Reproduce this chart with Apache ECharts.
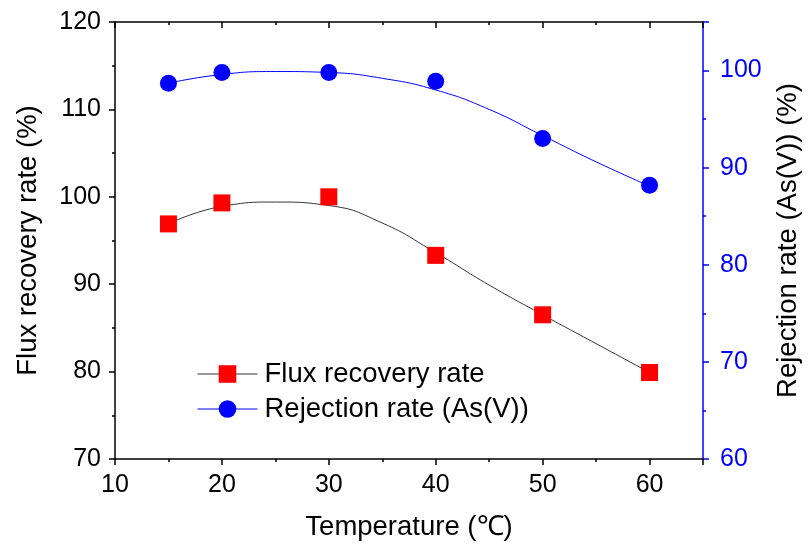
<!DOCTYPE html>
<html>
<head>
<meta charset="utf-8">
<script src="https://cdn.jsdelivr.net/npm/echarts@6/dist/echarts.min.js"></script>
<style>
  html, body { margin: 0; padding: 0; background: #fff; }
  #chart { width: 810px; height: 546px; }
</style>
</head>
<body>
<div id="chart"></div>
<script>
// measured points
var temps = [15, 20, 30, 40, 50, 60];
var fluxRecovery = [96.9, 99.3, 100.0, 93.3, 86.5, 79.9];
var rejection = [98.7, 99.8, 99.8, 98.9, 93.0, 88.2];

// fitted curves, every 5 degrees
var curveTemps = [15, 20, 25, 30, 35, 40, 45, 50, 55, 60];
var fluxCurve = [96.9, 98.9, 99.4, 99.0, 97.0, 93.6, 89.9, 86.5, 83.2, 79.9];
var rejectionCurve = [98.7, 99.6, 99.9, 99.8, 99.2, 98.0, 96.0, 93.3, 90.6, 88.1];

function pairs(xs, ys) {
    return xs.map(function (x, i) { return [x, ys[i]]; });
}

var chart = echarts.init(document.getElementById('chart'));

var font = "'Liberation Sans', Arial, sans-serif";
var black = '#000';
var blue = '#0000ff';

var option = {
    animation: false,
    backgroundColor: '#fff',
    textStyle: { fontFamily: font },
    grid: { left: 115, right: 101, top: 22, bottom: 87 },
    legend: {
        left: 192,
        top: 355,
        orient: 'vertical',
        itemWidth: 60,
        itemHeight: 22,
        itemGap: 7,
        textStyle: { fontFamily: font, fontSize: 27.5, color: black, padding: [0, 0, 0, 2] },
        data: [
            { name: 'Flux recovery rate', lineStyle: { opacity: 1, color: '#333', width: 1 } },
            { name: 'Rejection rate (As(V))', lineStyle: { opacity: 1, color: blue, width: 1 } }
        ]
    },
    xAxis: [
        {
            type: 'value',
            min: 10,
            max: 65,
            interval: 10,
            name: 'Temperature (\u2103)',
            nameLocation: 'middle',
            nameGap: 54,
            nameTextStyle: { fontFamily: font, fontSize: 27.5, color: black },
            axisLine: { lineStyle: { color: black, width: 1.5 } },
            axisTick: { inside: false, length: 6, lineStyle: { color: black, width: 1.5 } },
            minorTick: { show: true, splitNumber: 2, length: 3, lineStyle: { color: black, width: 1.5 } },
            axisLabel: { fontFamily: font, fontSize: 25, color: black, margin: 14, showMaxLabel: false },
            splitLine: { show: false }
        },
        {
            type: 'value',
            position: 'top',
            min: 10,
            max: 65,
            interval: 10,
            axisLine: { lineStyle: { color: black, width: 1.5 } },
            axisTick: { inside: true, length: 6, lineStyle: { color: black, width: 1.5 } },
            minorTick: { show: true, splitNumber: 2, length: 3, lineStyle: { color: black, width: 1.5 } },
            axisLabel: { show: false },
            splitLine: { show: false }
        }
    ],
    yAxis: [
        {
            type: 'value',
            position: 'left',
            min: 70,
            max: 120,
            interval: 10,
            name: 'Flux recovery rate (%)',
            nameLocation: 'middle',
            nameRotate: 90,
            nameGap: 73,
            nameTextStyle: { fontFamily: font, fontSize: 27.5, color: black },
            axisLine: { show: true, lineStyle: { color: black, width: 1.5 } },
            axisTick: { inside: false, length: 6, lineStyle: { color: black, width: 1.5 } },
            minorTick: { show: true, splitNumber: 2, length: 3, lineStyle: { color: black, width: 1.5 } },
            axisLabel: { fontFamily: font, fontSize: 25, color: black, margin: 14 },
            splitLine: { show: false }
        },
        {
            type: 'value',
            position: 'right',
            min: 60,
            max: 105,
            interval: 10,
            name: 'Rejection rate (As(V)) (%)',
            nameLocation: 'middle',
            nameRotate: 90,
            nameGap: 71,
            nameTextStyle: { fontFamily: font, fontSize: 27.5, color: black },
            axisLine: { show: true, lineStyle: { color: blue, width: 1.5 } },
            axisTick: { inside: false, length: 6, lineStyle: { color: blue, width: 1.5 } },
            minorTick: { show: true, splitNumber: 2, length: 3, lineStyle: { color: blue, width: 1.5 } },
            axisLabel: { fontFamily: font, fontSize: 25, color: blue, margin: 17, showMaxLabel: false },
            splitLine: { show: false }
        }
    ],
    series: [
        {
            name: 'Flux curve',
            type: 'line',
            xAxisIndex: 0,
            yAxisIndex: 0,
            smooth: 0.5,
            showSymbol: false,
            silent: true,
            lineStyle: { color: '#333', width: 1 },
            data: pairs(curveTemps, fluxCurve)
        },
        {
            name: 'Rejection curve',
            type: 'line',
            xAxisIndex: 0,
            yAxisIndex: 1,
            smooth: 0.5,
            showSymbol: false,
            silent: true,
            lineStyle: { color: blue, width: 1 },
            data: pairs(curveTemps, rejectionCurve)
        },
        {
            name: 'Flux recovery rate',
            type: 'line',
            xAxisIndex: 0,
            yAxisIndex: 0,
            symbol: 'rect',
            symbolSize: 17,
            itemStyle: { color: '#ff0000' },
            lineStyle: { opacity: 0, color: '#333' },
            data: pairs(temps, fluxRecovery),
            z: 5
        },
        {
            name: 'Rejection rate (As(V))',
            type: 'line',
            xAxisIndex: 0,
            yAxisIndex: 1,
            symbol: 'circle',
            symbolSize: 17,
            itemStyle: { color: blue },
            lineStyle: { opacity: 0, color: blue },
            data: pairs(temps, rejection),
            z: 5
        }
    ]
};

chart.setOption(option);
</script>
</body>
</html>
